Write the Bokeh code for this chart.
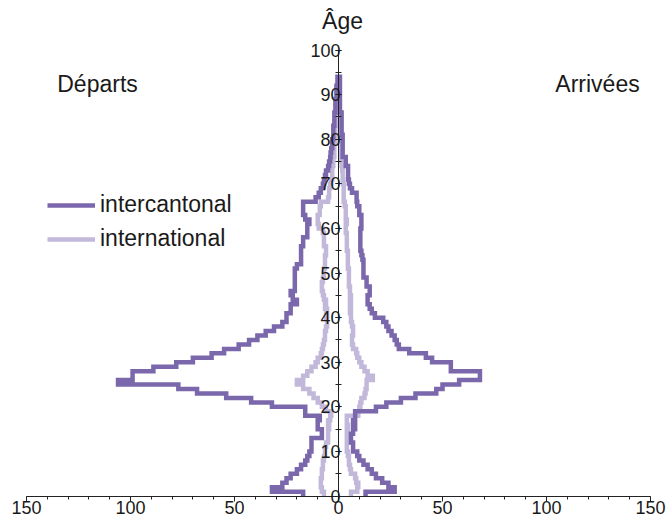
from bokeh.plotting import figure
from bokeh.models import LinearAxis, FixedTicker, Legend, LegendItem, Label, Range1d
from bokeh.embed import file_html
from bokeh.resources import INLINE

# ---- data (persons per year of age; departures stored as positive counts) ----
departs_intercantonal = [
    17, 32, 27, 25, 23, 20, 18, 16, 15, 14,
    13, 13, 13, 8, 8, 10, 10, 9, 16, 16,
    32, 42, 54, 68, 77, 106, 99, 99, 89, 78,
    70, 61, 55, 48, 43, 39, 35, 31, 27, 25,
    25, 23, 23, 20, 22, 23, 21, 21, 21, 21,
    21, 20, 18, 18, 18, 18, 17, 17, 15, 15,
    15, 14, 16, 17, 17, 17, 11, 9.5, 8.5, 7.5,
    7, 6.5, 6, 5, 4.5, 4, 3.8, 3.5, 3, 3,
    2.5, 2.5, 2.5, 2, 2, 2, 1.5, 1.5, 1.5, 1,
    1, 1, 0.5, 0.5,
]
arrivees_intercantonal = [
    13, 27, 24, 21, 18, 16, 14, 12, 10, 9,
    7, 7, 6, 6, 7, 8, 7, 8, 8, 18,
    23, 30, 37, 47, 50, 58, 68, 68, 54, 54,
    45, 42, 34, 29, 28, 27, 25.5, 24, 23, 21.5,
    17.5, 16, 15, 14, 14, 15, 15, 13.5, 13.5, 12,
    12, 12, 12, 11.5, 11, 10.5, 10.5, 10.5, 10.5, 10.5,
    11, 11, 11, 10, 10, 9, 8.7, 8.7, 6.5, 5.5,
    5, 4.6, 4.6, 4.6, 3.5, 3.5, 2, 2, 2, 2,
    2, 1.5, 1.5, 1.5, 1.5, 1.5, 0.7, 0.7, 0.7, 0.7,
    0.7, 0.7, 0.7, 0.7,
]
departs_international = [
    7, 8, 8.5, 8.5, 8, 8, 7.5, 7.5, 7, 6.5,
    6.5, 6, 5, 5, 5, 4.5, 5, 4, 3.5, 6,
    8, 10, 12, 14, 17, 20, 17, 15, 13, 11,
    10, 8.5, 8, 7.5, 7, 6.5, 6.5, 6, 5.5, 5.5,
    6, 5.5, 6.5, 6, 7, 7.5, 8, 8, 7.5, 7,
    7, 6.5, 6.5, 6.5, 6, 6, 7, 7, 7, 7.5,
    9.5, 10, 10, 9, 9, 8.5, 5, 4.5, 4.5, 4,
    3.5, 3, 3, 3, 2.5, 2.5, 2, 2, 2, 1.5,
    1.5, 1.5, 1.5, 1, 1, 1, 0.5, 0.5, 0.5, 0.5,
]
arrivees_international = [
    6, 9, 9.5, 8.5, 8, 6, 5.5, 5, 5, 4.5,
    4, 4, 4.5, 4, 4, 4.5, 4, 4, 9.5, 10,
    10.5, 11, 12.5, 13, 13.5, 13.5, 16.5, 14, 12.5, 11,
    10, 9, 8.5, 7, 6.5, 6.5, 7, 7, 6.5, 6,
    6, 5.5, 6, 5.5, 6, 5.5, 5.5, 5, 5, 5,
    5, 4.5, 4.5, 4.5, 4.5, 4, 4, 4, 4, 3.5,
    3.5, 4, 3.5, 3.5, 3.5, 3, 2.5, 2.5, 2.5, 2.5,
    2.2, 2, 2, 1.8, 1.5, 1.3, 1, 1, 1, 1,
    1, 1, 1, 1, 1, 1, 0.5, 0.5, 0.5, 0.5,
]
x_ticks = [-150, -100, -50, 0, 50, 100, 150]
x_tick_labels = ["150", "100", "50", "0", "50", "100", "150"]
y_ticks = [0, 10, 20, 30, 40, 50, 60, 70, 80, 90, 100]

DARK = "#7b68ac"
LIGHT = "#c2b8da"
FONT = "Liberation Sans"
TXT = "#1a1a1a"
AX = "#222222"


def step_path(values, sign):
    xs, ys = [], []
    for age, v in enumerate(values):
        xs += [sign * v, sign * v]
        ys += [age, age + 1]
    xs.append(0)
    ys.append(len(values))
    return xs, ys


p = figure(width=668, height=517,
           x_range=Range1d(-162.5, 158.65), y_range=Range1d(-4.8, 111.1),
           x_axis_type=None, y_axis_type=None,
           toolbar_location=None, output_backend="svg", min_border=0)
p.outline_line_color = None
p.background_fill_color = "white"

lw = 4.5
r_li = p.line(*step_path(departs_international, -1), line_color=LIGHT, line_width=lw, line_join="miter")
p.line(*step_path(arrivees_international, 1), line_color=LIGHT, line_width=lw, line_join="miter")
r_lc = p.line(*step_path(departs_intercantonal, -1), line_color=DARK, line_width=lw, line_join="miter")
p.line(*step_path(arrivees_intercantonal, 1), line_color=DARK, line_width=lw, line_join="miter")

xa = LinearAxis(fixed_location=0,
                ticker=FixedTicker(ticks=x_ticks, minor_ticks=list(range(-150, 151, 10))),
                bounds=(-150, 150),
                major_label_overrides=dict(zip(x_ticks, x_tick_labels)),
                major_tick_in=0, major_tick_out=5, minor_tick_in=0, minor_tick_out=3,
                major_label_standoff=0,
                major_label_text_font=FONT, major_label_text_font_size="18px",
                major_label_text_color=TXT,
                axis_line_color=AX, major_tick_line_color=AX, minor_tick_line_color=AX)
p.add_layout(xa, "below")

ya = LinearAxis(fixed_location=0,
                ticker=FixedTicker(ticks=y_ticks, minor_ticks=list(range(0, 101, 5))),
                bounds=(0, 100),
                major_tick_in=3, major_tick_out=3, minor_tick_in=3, minor_tick_out=3,
                major_label_standoff=-5,
                major_label_text_font=FONT, major_label_text_font_size="18px",
                major_label_text_color=TXT,
                axis_line_color=AX, major_tick_line_color=AX, minor_tick_line_color=AX)
p.add_layout(ya, "left")

for txt, sx, sy in [("Âge", 342, 497), ("Départs", 97, 434), ("Arrivées", 597, 434)]:
    p.add_layout(Label(x=sx, y=sy, x_units="screen", y_units="screen", text=txt,
                       text_align="center", text_baseline="middle",
                       text_font=FONT, text_font_size="23px", text_color=TXT))

legend = Legend(items=[LegendItem(label="intercantonal", renderers=[r_lc]),
                       LegendItem(label="international", renderers=[r_li])],
                location=(47, 265), padding=0, margin=0, spacing=7,
                glyph_width=48, glyph_height=22, label_height=22, label_standoff=5,
                label_text_font=FONT, label_text_font_size="23px", label_text_color=TXT,
                border_line_color=None, background_fill_alpha=0)
p.add_layout(legend)

open("out.html", "w").write(file_html(p, INLINE))
